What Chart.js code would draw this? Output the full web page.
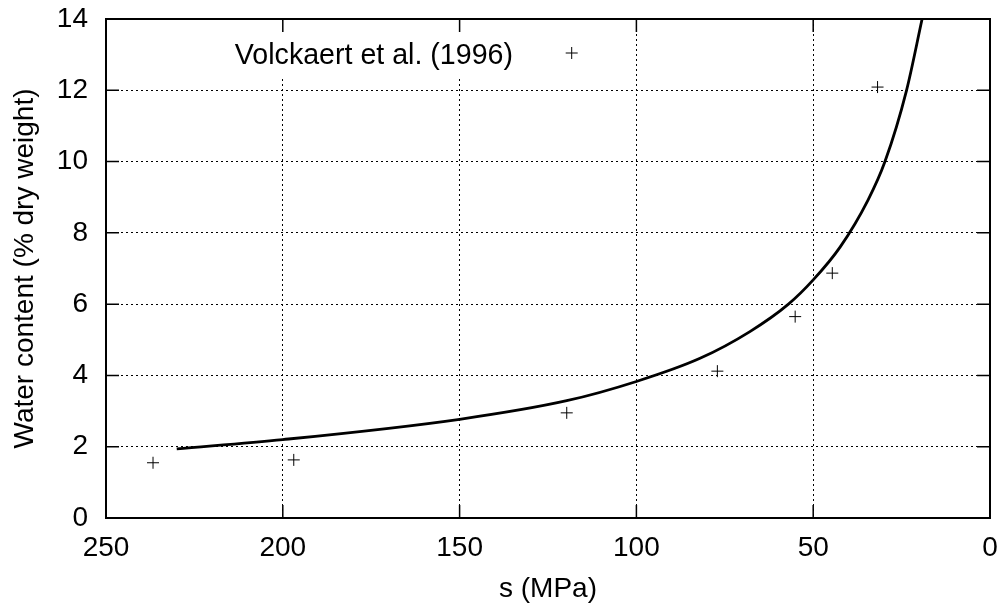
<!DOCTYPE html>
<html>
<head>
<meta charset="utf-8">
<script src="https://cdn.jsdelivr.net/npm/chart.js@4.4.1/dist/chart.umd.min.js"></script>
<style>
  html, body { margin: 0; padding: 0; background: #fff; }
  #wrap { width: 1005px; height: 606px; }
</style>
</head>
<body>
<div id="wrap"><canvas id="c" width="1005" height="606"></canvas></div>
<script>
// Measured suction / water content pairs
const sMeasured = [236.7, 196.9, 119.7, 77.1, 55.1, 44.6, 31.8];
const waterMeasured = [1.55, 1.63, 2.95, 4.12, 5.65, 6.87, 12.09];

// Fitted retention curve
const sFit = [230, 200, 150, 119.7, 100, 82, 67.9, 57, 50, 42.4, 34.5, 29.7, 23.6, 19.2];
const waterFit = [1.94, 2.20, 2.77, 3.29, 3.83, 4.48, 5.23, 6.0, 6.68, 7.6, 8.92, 10.0, 12.0, 14.0];

// Axis ticks
const sTicks = [250, 200, 150, 100, 50, 0];
const waterTicks = [0, 2, 4, 6, 8, 10, 12, 14];

const seriesLabel = 'Volckaert et al. (1996)';
const FONT = '"Liberation Sans", Arial, sans-serif';
const FS = 28;

const toXY = (xs, ys) => xs.map((x, i) => ({ x: x, y: ys[i] }));

// Frame, mirrored inward tick marks and the in-plot key
const framePlugin = {
  id: 'frame',
  beforeDatasetsDraw(chart) {
    const ctx = chart.ctx;
    // opaque key area
    ctx.save();
    ctx.fillStyle = '#fff';
    ctx.fillRect(225, 21, 380, 56);
    ctx.restore();
  },
  afterDatasetsDraw(chart) {
    const { ctx, chartArea: a, scales } = chart;
    ctx.save();
    ctx.strokeStyle = '#000';
    ctx.lineWidth = 1.5;
    const tl = 13;
    ctx.beginPath();
    sTicks.forEach(v => {
      const px = scales.x.getPixelForValue(v);
      ctx.moveTo(px, a.bottom); ctx.lineTo(px, a.bottom - tl);
      ctx.moveTo(px, a.top); ctx.lineTo(px, a.top + tl);
    });
    waterTicks.forEach(v => {
      const py = scales.y.getPixelForValue(v);
      ctx.moveTo(a.left, py); ctx.lineTo(a.left + tl, py);
      ctx.moveTo(a.right, py); ctx.lineTo(a.right - tl, py);
    });
    ctx.stroke();
    ctx.lineWidth = 2;
    ctx.strokeRect(a.left, a.top, a.right - a.left, a.bottom - a.top);

    // key
    ctx.fillStyle = '#000';
    ctx.font = '28.6px ' + FONT;
    ctx.textAlign = 'right';
    ctx.textBaseline = 'alphabetic';
    ctx.fillText(chart.data.datasets[1].label, 513, 63.5);
    ctx.lineWidth = 1;
    ctx.beginPath();
    ctx.moveTo(565.7, 53); ctx.lineTo(577.7, 53);
    ctx.moveTo(571.7, 47); ctx.lineTo(571.7, 59);
    ctx.stroke();
    ctx.restore();
  }
};

// Keep tick labels from pushing the plot area inwards
const noOverflow = s => { s.paddingLeft = 0; s.paddingRight = 0; s.paddingTop = 0; s.paddingBottom = 0; };

new Chart(document.getElementById('c'), {
  type: 'scatter',
  data: {
    datasets: [
      {
        label: 'fit',
        data: toXY(sFit, waterFit),
        showLine: true,
        borderColor: '#000',
        borderWidth: 2.8,
        pointRadius: 0,
        cubicInterpolationMode: 'monotone',
        fill: false,
        order: 1
      },
      {
        label: seriesLabel,
        data: toXY(sMeasured, waterMeasured),
        showLine: false,
        pointStyle: 'cross',
        pointRadius: 6,
        borderColor: '#000',
        borderWidth: 1,
        backgroundColor: '#000',
        order: 0
      }
    ]
  },
  options: {
    responsive: false,
    animation: false,
    layout: { padding: { top: 19, right: 15, left: 0, bottom: 0 } },
    plugins: {
      legend: { display: false },
      tooltip: { enabled: false }
    },
    scales: {
      x: {
        type: 'linear',
        reverse: true,
        min: 0,
        max: 250,
        afterBuildTicks: s => { s.ticks = sTicks.map(v => ({ value: v })); },
        afterFit: s => { s.height = 88; noOverflow(s); },
        grid: { color: '#000', lineWidth: 1, drawTicks: false },
        border: { display: false, dash: [2, 3] },
        ticks: { color: '#000', padding: 13, maxRotation: 0, font: { family: FONT, size: FS } },
        title: { display: true, text: 's (MPa)', color: '#000', padding: { top: 0, bottom: 0 }, font: { family: FONT, size: FS } }
      },
      y: {
        type: 'linear',
        min: 0,
        max: 14,
        afterBuildTicks: s => { s.ticks = waterTicks.map(v => ({ value: v })); },
        afterFit: s => { s.width = 106; noOverflow(s); },
        grid: { color: '#000', lineWidth: 1, drawTicks: false },
        border: { display: false, dash: [2, 3] },
        ticks: { color: '#000', padding: 18, font: { family: FONT, size: FS } },
        title: { display: true, text: 'Water content (% dry weight)', color: '#000', padding: { top: 8, bottom: 0 }, font: { family: FONT, size: FS } }
      }
    }
  },
  plugins: [framePlugin]
});
</script>
</body>
</html>
